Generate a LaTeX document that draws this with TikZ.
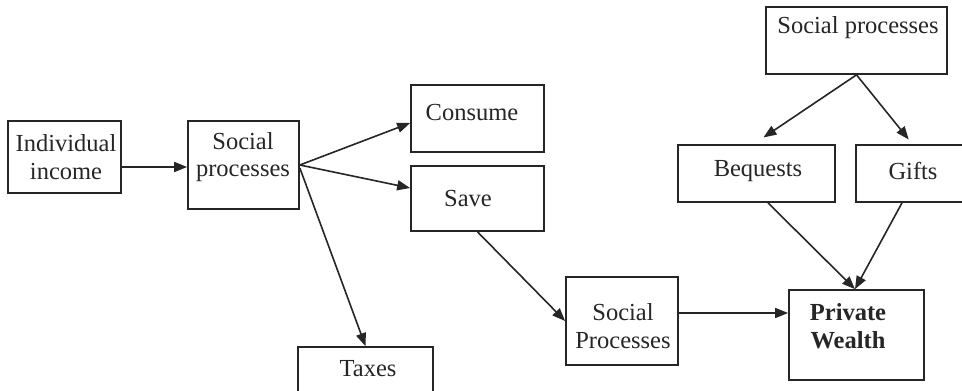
\documentclass[tikz,border=0pt]{standalone}
\usepackage{fontspec}
\setmainfont{Liberation Serif}
\usetikzlibrary{arrows.meta}
\begin{document}
\begin{tikzpicture}[x=1pt,y=-1pt,
  box/.style={draw=black!85,line width=1.7pt,inner sep=0pt},
  txt/.style={font=\fontsize{24.5}{27.5}\selectfont,align=center,inner sep=0pt,text=black!85},
  arr/.style={draw=black!85,line width=1.6pt,-{Triangle[length=13pt,width=10pt]}}]
\useasboundingbox (0,0) rectangle (962,391);
\fill[white] (0,0) rectangle (962,391);
\clip (0,0) rectangle (962,391);
% boxes
\node[box,minimum width=113pt,minimum height=72pt] (inc) at (64.5,157) {};
\node[box,minimum width=111pt,minimum height=88pt] (sp1) at (243.5,165) {};
\node[box,minimum width=133pt,minimum height=67pt] (cons) at (477.5,118.5) {};
\node[box,minimum width=133pt,minimum height=65pt] (save) at (477.5,198.5) {};
\node[box,minimum width=135pt,minimum height=73pt] (tax) at (365.5,383.5) {};
\node[box,minimum width=112pt,minimum height=88pt] (sp2) at (622,321) {};
\node[box,minimum width=135pt,minimum height=90pt] (pw) at (856.5,335) {};
\node[box,minimum width=181pt,minimum height=67pt] (sptop) at (856.5,40.5) {};
\node[box,minimum width=157pt,minimum height=57pt] (beq) at (756.5,173.5) {};
\node[box,minimum width=119pt,minimum height=57pt] (gifts) at (915.5,173.5) {};
% texts
\node[txt] (incT) at (66,157) {Individual\\income};
\node[txt] (sp1T) at (243,157) {Social\\processes};
\node[txt] (consT) at (472,113) {Consume};
\node[txt] (saveT) at (468,199) {Save};
\node[txt] (taxT) at (368,369) {Taxes};
\node[txt] (sp2T) at (623,326) {Social\\Processes};
\node[txt,font=\fontsize{24.5}{27.5}\selectfont\bfseries] (pwT) at (848,326) {Private\\Wealth};
\node[txt] (sptopT) at (858,28) {Social processes};
\node[txt] (beqT) at (758,171) {Bequests};
\node[txt] (giftsT) at (913,171) {Gifts};
% connectors
\draw[arr] ([yshift=-10pt]inc.east) -- ([yshift=-2pt]sp1.west);
\draw[arr] (sp1.east) -- ([yshift=-4.5pt]cons.west);
\draw[arr] (sp1.east) -- ([yshift=10.5pt]save.west);
\draw[arr] ([yshift=-3pt]sp1.east) -- (tax.north);
\draw[arr] (save.south) -- (sp2.west);
\draw[arr] ([yshift=8pt]sp2.east) -- ([yshift=22pt]pw.west);
\draw[arr,shorten >=12pt] (sptop.south) -- ([xshift=-3pt]beq.north);
\draw[arr,shorten >=6pt] (sptop.south) -- ([xshift=-3pt]gifts.north);
\draw[arr] ([xshift=11.5pt]beq.south) -- ([xshift=-1.5pt]pw.north);
\draw[arr] ([xshift=-13.5pt]gifts.south) -- ([xshift=-1.5pt]pw.north);
\end{tikzpicture}
\end{document}
